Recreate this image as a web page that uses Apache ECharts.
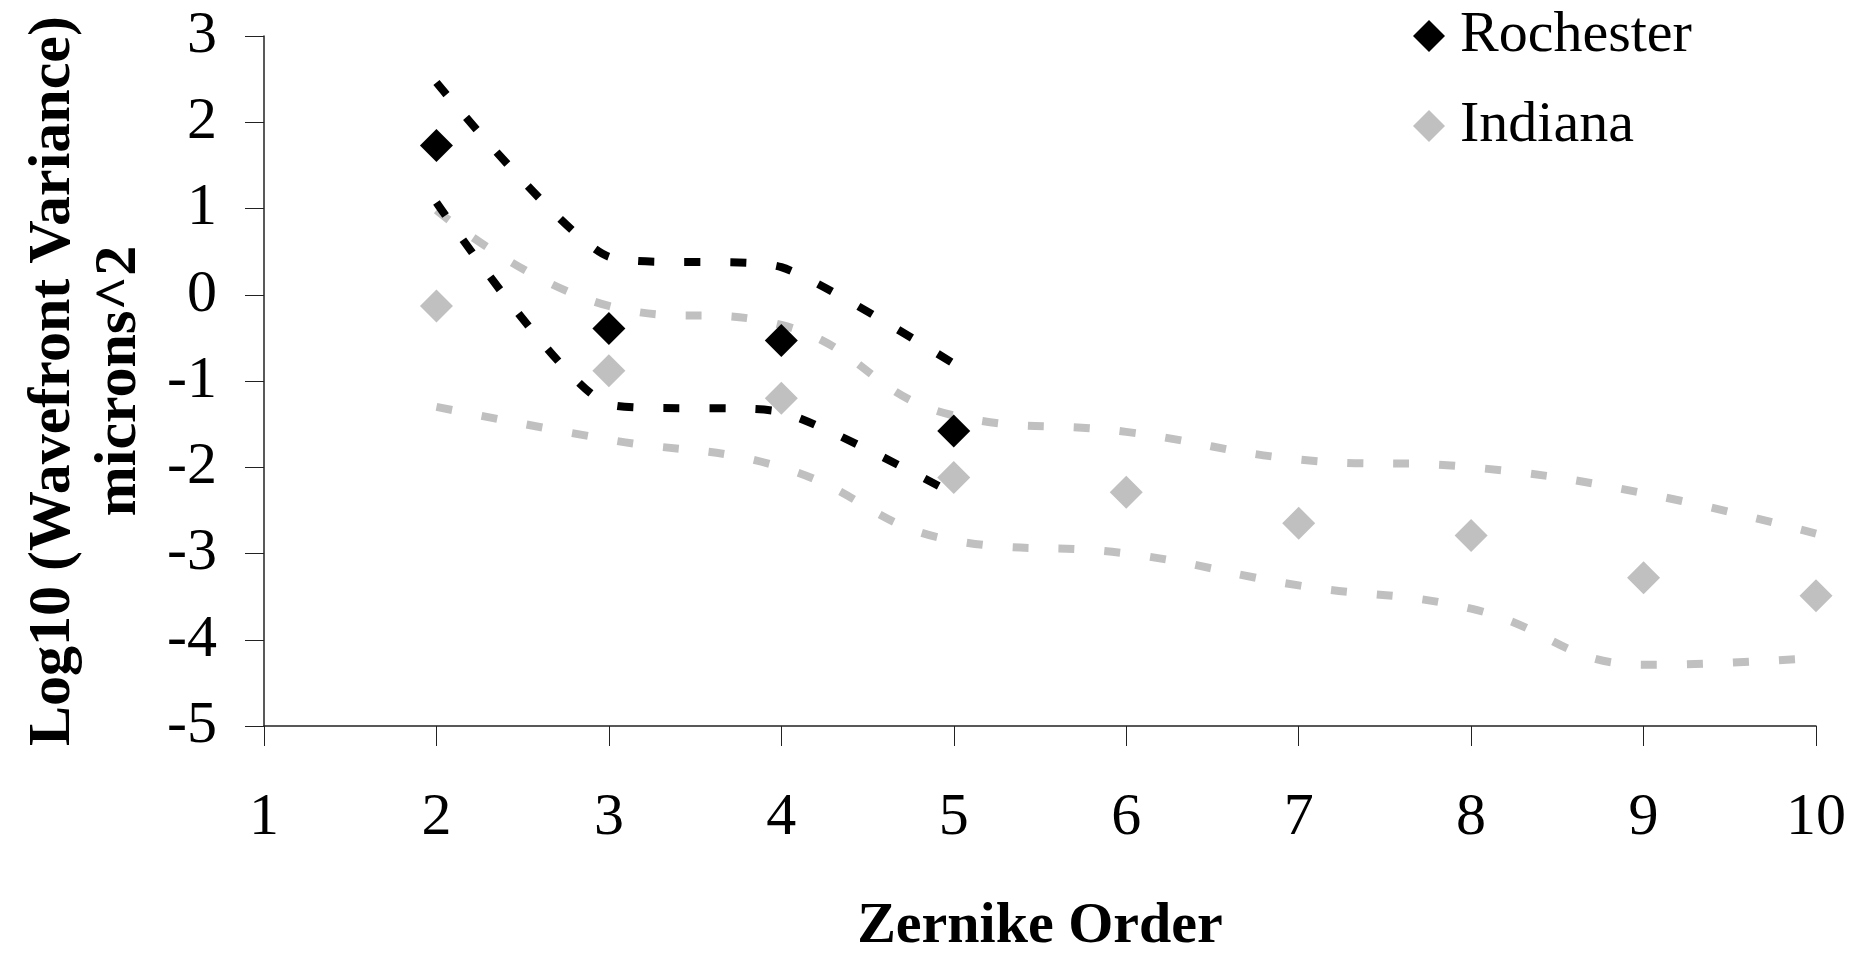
<!DOCTYPE html>
<html>
<head>
<meta charset="utf-8">
<script src="https://cdn.jsdelivr.net/npm/echarts@6/dist/echarts.min.js"></script>
<style>
  html, body { margin: 0; padding: 0; background: #fff; }
  #chart { width: 1862px; height: 954px; }
</style>
</head>
<body>
<div id="chart"></div>
<script>
// Zernike orders on the x axis
const orders = [2, 3, 4, 5, 6, 7, 8, 9, 10];
const rochesterOrders = [2, 3, 4, 5];

// Log10 wavefront variance (microns^2), means per order
const rochester = [1.73, -0.39, -0.53, -1.58];
const indiana = [-0.13, -0.88, -1.20, -2.12, -2.29, -2.65, -2.79, -3.28, -3.49];

// Upper / lower bounds drawn as dashed smoothed curves
const rochesterUpper = [2.46, 0.44, 0.32, -0.80];
const rochesterLower = [1.07, -1.27, -1.36, -2.31];
const indianaUpper = [0.98, -0.13, -0.35, -1.40, -1.59, -1.91, -2.00, -2.30, -2.77];
const indianaLower = [-1.30, -1.68, -2.00, -2.85, -3.00, -3.37, -3.64, -4.29, -4.21];

// Axis ranges
const xTicks = { min: 1, max: 10, interval: 1 };
const yTicks = { min: -5, max: 3, interval: 1 };

const BLACK = '#000000';
const GRAY = '#c0c0c0';
const SERIF = "'Liberation Serif', 'Times New Roman', serif";

const pair = (xs, ys) => ys.map((v, i) => [xs[i], v]);

function boundSeries(name, xs, ys, color, smooth) {
  return {
    name: name,
    type: 'line',
    data: pair(xs, ys),
    smooth: smooth,
    showSymbol: false,
    silent: true,
    z: 2,
    lineStyle: { color: color, width: 8, type: [16, 30], cap: 'butt', join: 'miter' }
  };
}

function markerSeries(name, xs, ys, color, z) {
  return {
    name: name,
    type: 'scatter',
    data: pair(xs, ys),
    symbol: 'diamond',
    symbolSize: 33,
    z: z,
    itemStyle: { color: color, opacity: 1 }
  };
}

const chart = echarts.init(document.getElementById('chart'), null, { renderer: 'canvas' });

chart.setOption({
  animation: false,
  backgroundColor: '#ffffff',
  textStyle: { fontFamily: SERIF, color: BLACK },
  grid: { left: 264, right: 46, top: 36, bottom: 228, containLabel: false, outerBoundsMode: 'none' },
  legend: {
    orient: 'vertical',
    left: 1408,
    top: 1,
    itemWidth: 32,
    itemHeight: 32,
    itemGap: 30,
    selectedMode: false,
    data: [
      { name: 'Rochester', icon: 'diamond' },
      { name: 'Indiana', icon: 'diamond' }
    ],
    textStyle: {
      fontFamily: SERIF,
      fontSize: 58,
      lineHeight: 60,
      color: BLACK,
      padding: [0, 0, 0, 10]
    }
  },
  xAxis: {
    type: 'value',
    min: xTicks.min,
    max: xTicks.max,
    interval: xTicks.interval,
    name: 'Zernike Order',
    nameLocation: 'middle',
    nameGap: 172,
    nameTextStyle: { fontFamily: SERIF, fontSize: 58, fontWeight: 'bold', color: BLACK },
    axisLine: { show: true, onZero: false, lineStyle: { color: '#222', width: 1.5 } },
    axisTick: { show: true, inside: false, length: 20, lineStyle: { color: '#222', width: 1 } },
    axisLabel: { margin: 62, fontFamily: SERIF, fontSize: 60, color: BLACK },
    splitLine: { show: false }
  },
  yAxis: {
    type: 'value',
    min: yTicks.min,
    max: yTicks.max,
    interval: yTicks.interval,
    name: 'Log10 (Wavefront Variance)\nmicrons^2',
    nameLocation: 'middle',
    nameRotate: 90,
    nameGap: 112,
    nameTextStyle: { fontFamily: SERIF, fontSize: 60, fontWeight: 'bold', lineHeight: 66, color: BLACK, align: 'center' },
    axisLine: { show: true, onZero: false, lineStyle: { color: '#222', width: 1.5 } },
    axisTick: { show: true, inside: false, length: 19, lineStyle: { color: '#222', width: 1 } },
    axisLabel: { margin: 47, fontFamily: SERIF, fontSize: 60, color: BLACK },
    splitLine: { show: false }
  },
  series: [
    boundSeries('Indiana upper', orders, indianaUpper, GRAY, 0.45),
    boundSeries('Indiana lower', orders, indianaLower, GRAY, 0.45),
    boundSeries('Rochester upper', rochesterOrders, rochesterUpper, BLACK, 0.2),
    boundSeries('Rochester lower', rochesterOrders, rochesterLower, BLACK, 0.2),
    markerSeries('Indiana', orders, indiana, GRAY, 4),
    markerSeries('Rochester', rochesterOrders, rochester, BLACK, 5)
  ]
});
</script>
</body>
</html>
